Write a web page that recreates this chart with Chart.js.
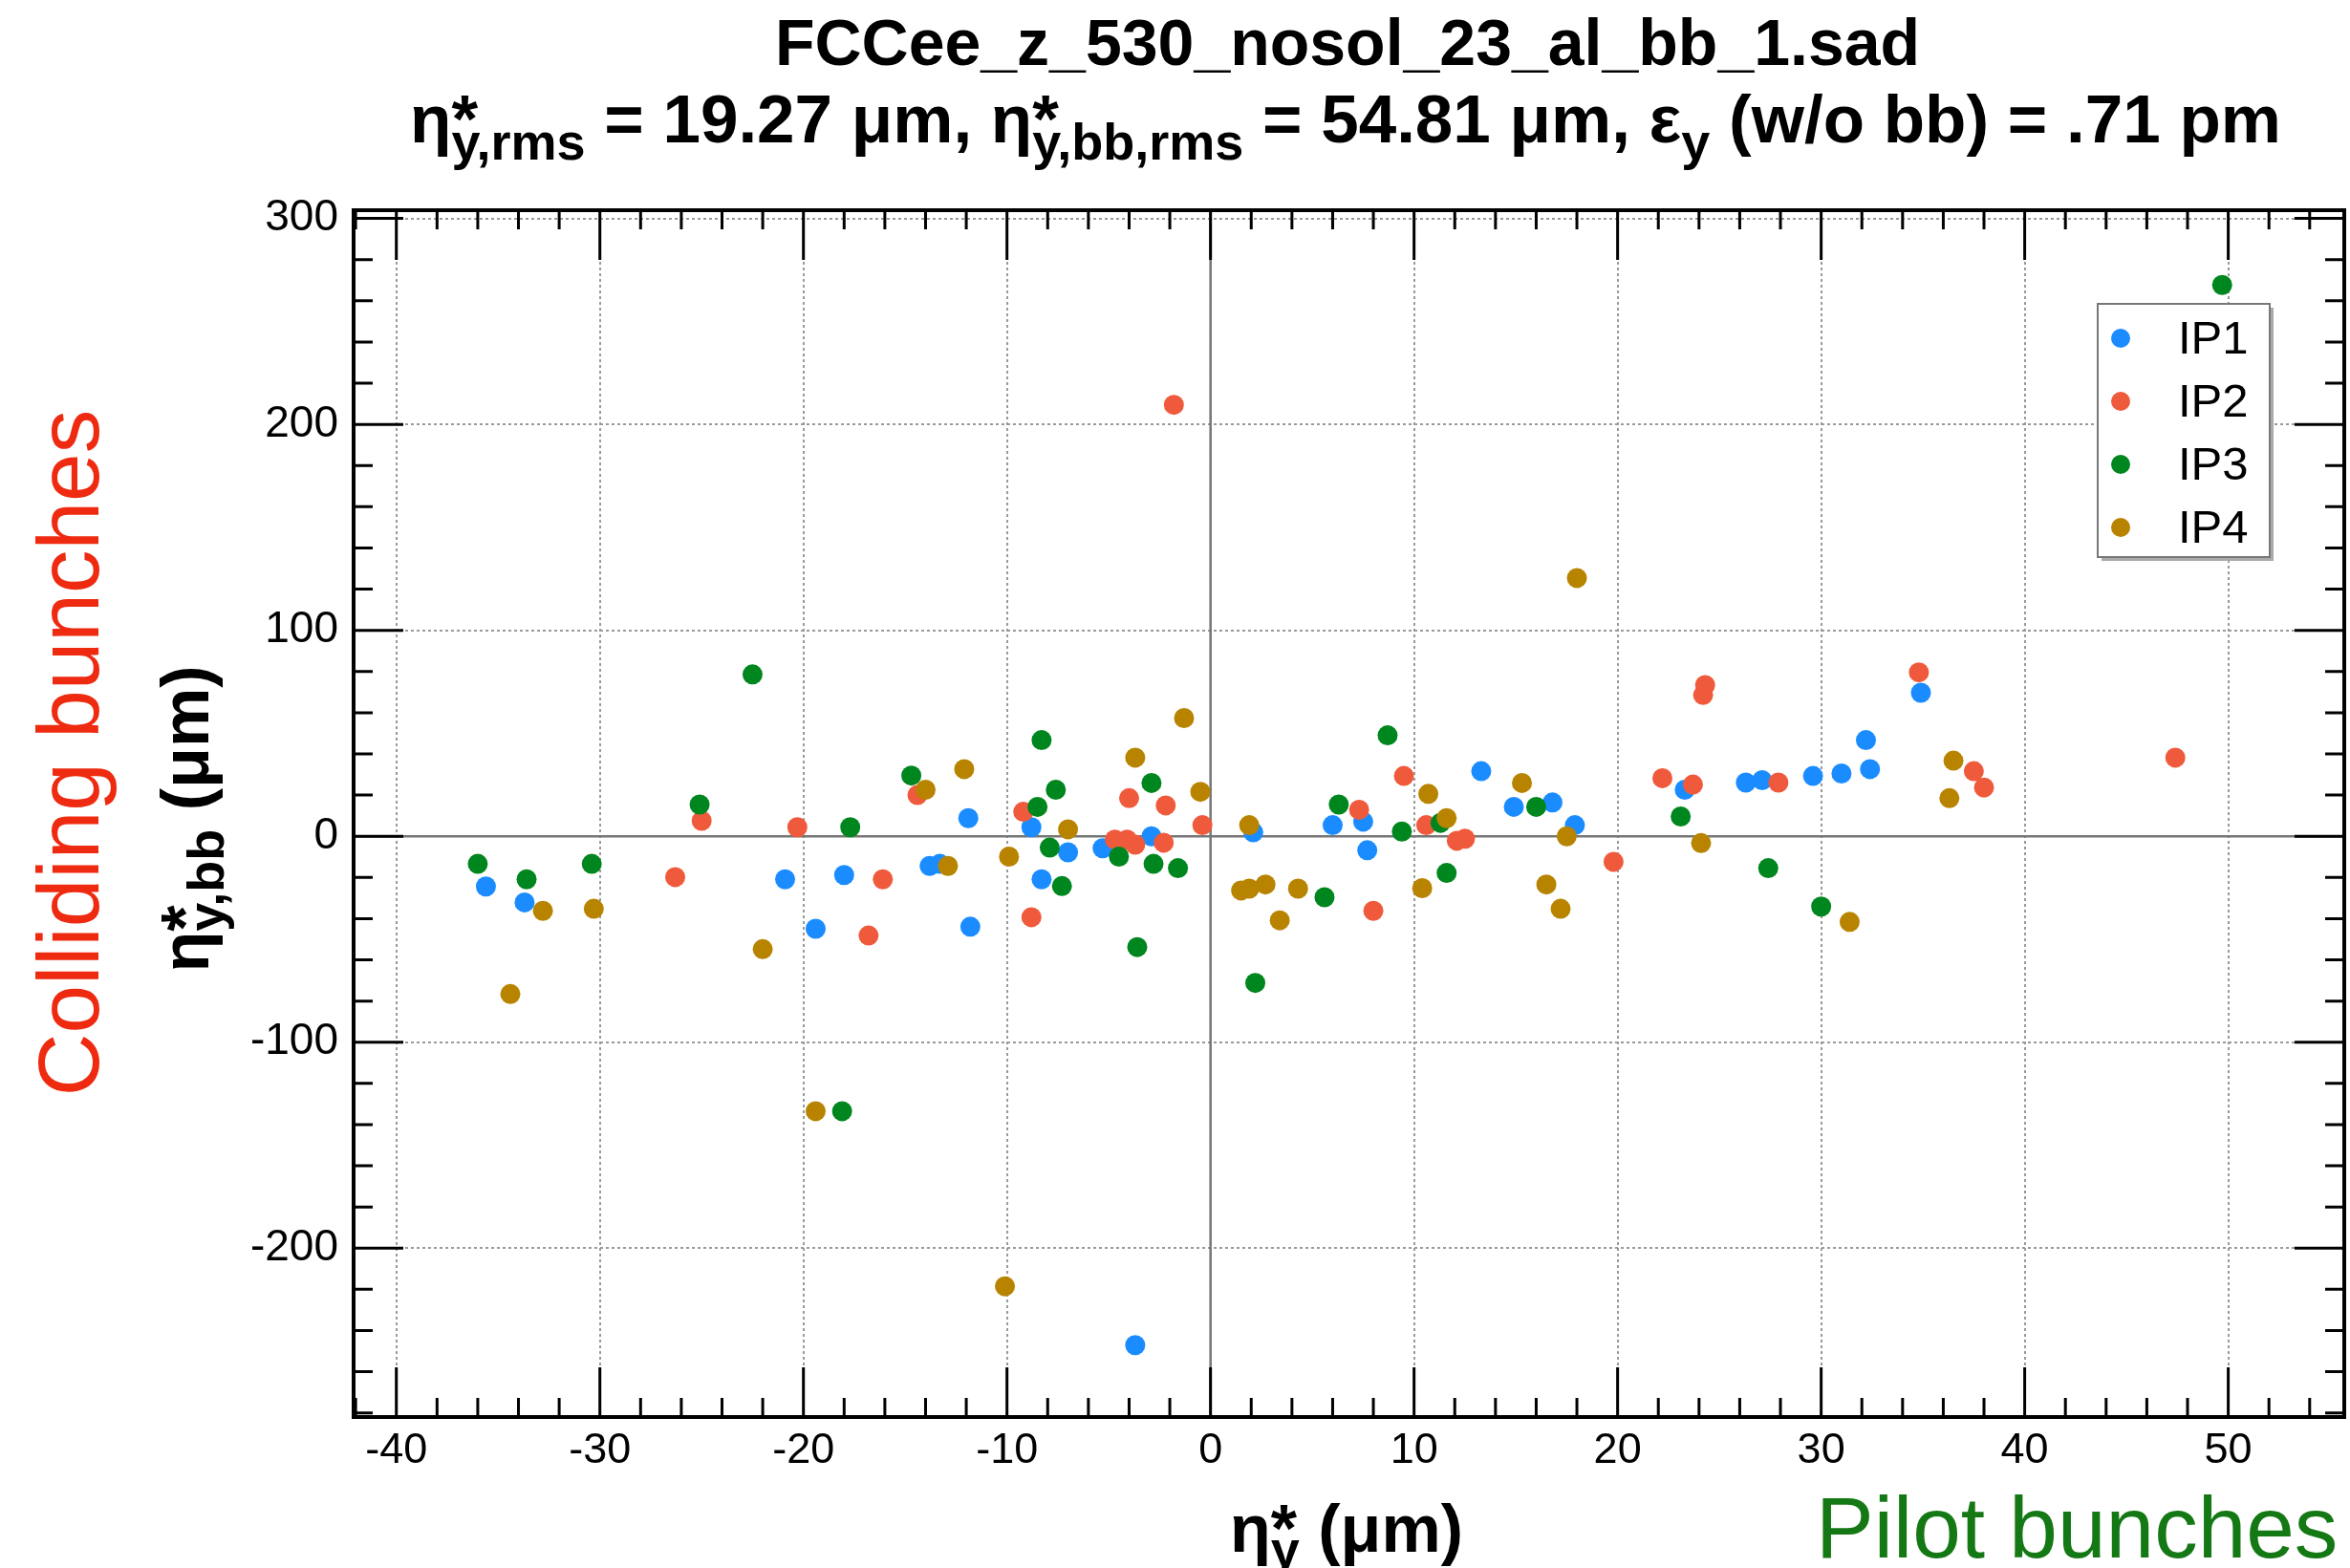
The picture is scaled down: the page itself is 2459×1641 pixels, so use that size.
<!DOCTYPE html>
<html>
<head>
<meta charset="utf-8">
<title>FCCee_z_530_nosol_23_al_bb_1.sad</title>
<script src="https://cdn.jsdelivr.net/npm/chart.js@4.4.0/dist/chart.umd.min.js"></script>
<style>
  html, body { margin: 0; padding: 0; background: #fff; }
  canvas { display: block; }
</style>
</head>
<body>
<canvas id="scatterChart" width="2459" height="1641"></canvas>
<script>
// eta*_y (um) vs eta*_y,bb (um), one list of [x, y] per IP
var ip1 = [[-35.6,-24.4],[-33.7,-32.1],[-20.9,-20.9],[-19.4,-44.9],[-18.0,-18.8],[-13.8,-14.4],[-13.3,-13.4],
  [-11.9,8.8],[-11.8,-43.9],[-8.8,4.4],[-8.3,-20.9],[-7.0,-7.8],[-5.3,-5.8],[-3.7,-247.1],[-2.9,0.0],
  [2.1,1.9],[6.0,5.4],[7.5,7.1],[7.7,-6.8],[13.3,31.6],[14.9,14.3],[16.8,16.4],[17.9,5.4],[23.3,22.6],
  [26.3,26.1],[27.1,27.2],[29.6,29.3],[31.0,30.5],[32.2,46.7],[32.4,32.6],[34.9,69.7]];
var ip2 = [[-26.3,-19.8],[-25.0,7.5],[-20.3,4.4],[-16.8,-48.2],[-16.1,-20.9],[-14.4,20.0],[-9.2,11.9],
  [-8.8,-39.3],[-4.7,-1.6],[-4.1,-1.6],[-4.0,18.5],[-3.7,-4.1],[-2.3,-3.1],[-2.2,15.0],[-1.8,209.5],
  [-0.4,5.4],[7.3,12.9],[8.0,-36.2],[9.5,29.3],[10.6,5.4],[12.1,-2.2],[12.5,-1.2],[19.8,-12.4],[22.2,28.2],
  [23.7,25.1],[24.2,68.6],[24.3,73.4],[27.9,26.1],[34.8,79.6],[37.5,31.6],[38.0,23.7],[47.4,38.2]];
var ip3 = [[-36.0,-13.4],[-33.6,-20.9],[-30.4,-13.4],[-25.1,15.4],[-22.5,78.6],[-18.1,-133.5],[-17.7,4.4],
  [-14.7,29.5],[-8.5,14.3],[-8.3,46.7],[-7.9,-5.5],[-7.6,22.6],[-7.3,-24.2],[-4.5,-9.9],[-3.6,-53.8],
  [-2.9,25.9],[-2.8,-13.4],[-1.6,-15.5],[2.2,-71.2],[5.6,-29.6],[6.3,15.4],[8.7,49.0],[9.4,2.3],[11.3,6.5],
  [11.6,-17.8],[16.0,14.3],[23.1,9.6],[27.4,-15.5],[30.0,-34.1],[49.7,267.7]];
var ip4 = [[-34.4,-76.6],[-32.8,-36.2],[-30.3,-35.2],[-22.0,-54.8],[-19.4,-133.5],[-14.0,22.6],[-12.9,-14.4],
  [-12.1,32.6],[-10.1,-218.5],[-9.9,-9.9],[-7.0,3.4],[-3.7,38.2],[-1.3,57.4],[-0.5,21.6],[1.5,-26.3],
  [1.9,-25.4],[1.9,5.4],[2.7,-23.4],[3.4,-40.8],[4.3,-25.4],[10.4,-25.2],[10.7,20.6],[11.6,8.8],[15.3,25.9],
  [16.5,-23.4],[17.2,-35.2],[17.5,0.0],[18.0,125.4],[24.1,-3.3],[31.4,-41.6],[36.3,18.5],[36.5,36.7]];

var seriesNames = ['IP1', 'IP2', 'IP3', 'IP4'];
var seriesData = [ip1, ip2, ip3, ip4];
var xTicks = [-40, -30, -20, -10, 0, 10, 20, 30, 40, 50];
var yTicks = [-200, -100, 0, 100, 200, 300];

var seriesColors = ['#1a8cff', '#f05a3c', '#00861e', '#b88400'];
var FONT = '"Liberation Sans", Arial, Helvetica, sans-serif';
Chart.defaults.font.family = FONT;
Chart.defaults.color = '#000';

// text pieces: [text, size, baseline shift, stays at same x]
var titleLine1 = 'FCCee_z_530_nosol_23_al_bb_1.sad';
var titleLine2 = [['η',71,0],['*',71,0,true],['y,rms',54,18],[' = 19.27 μm, ',71,0],
  ['η',71,0],['*',71,0,true],['y,bb,rms',54,18],[' = 54.81 μm, ',71,0],
  ['ε',71,0],['y',54,18],[' (w/o bb) = .71 pm',71,0]];
var xTitle = [['η',70,0],['*',70,0,true],['y',54,16],[' (μm)',70,0]];
var yTitle = [['η',70,0],['*',70,0,true],['y,bb',54,16],[' (μm)',70,0]];

function drawRich(ctx, segs, x, y) {
  var w = 0;
  segs.forEach(function (s) {
    ctx.font = 'bold ' + s[1] + 'px ' + FONT;
    if (!s[3]) w += ctx.measureText(s[0]).width;
  });
  var cx = x - w / 2;
  ctx.textAlign = 'left';
  ctx.textBaseline = 'alphabetic';
  segs.forEach(function (s) {
    ctx.font = 'bold ' + s[1] + 'px ' + FONT;
    ctx.fillText(s[0], cx, y + s[2]);
    if (!s[3]) cx += ctx.measureText(s[0]).width;
  });
}

var plotDecor = {
  id: 'plotDecor',
  beforeDraw: function (chart) {
    var ctx = chart.ctx;
    ctx.save();
    ctx.fillStyle = '#fff';
    ctx.fillRect(0, 0, chart.width, chart.height);
    ctx.restore();
  },
  beforeDatasetsDraw: function (chart) {
    var ctx = chart.ctx, a = chart.chartArea;
    var x0 = chart.scales.x.getPixelForValue(0);
    var y0 = chart.scales.y.getPixelForValue(0);
    ctx.save();
    ctx.strokeStyle = '#777';
    ctx.lineWidth = 2.5;
    ctx.beginPath();
    ctx.moveTo(x0, a.top); ctx.lineTo(x0, a.bottom);
    ctx.moveTo(a.left, y0); ctx.lineTo(a.right, y0);
    ctx.stroke();
    ctx.restore();
  },
  afterDatasetsDraw: function (chart) {
    var ctx = chart.ctx, a = chart.chartArea;
    var sx = chart.scales.x, sy = chart.scales.y;
    ctx.save();
    ctx.strokeStyle = '#000';
    ctx.lineWidth = 3;
    ctx.beginPath();
    for (var v = -42; v <= sx.max; v += 2) {
      var px = sx.getPixelForValue(v);
      var len = v % 10 === 0 ? 52 : 20;
      ctx.moveTo(px, a.bottom); ctx.lineTo(px, a.bottom - len);
      ctx.moveTo(px, a.top); ctx.lineTo(px, a.top + len);
    }
    for (var w = -280; w <= sy.max; w += 20) {
      var py = sy.getPixelForValue(w);
      var l2 = w % 100 === 0 ? 52 : 20;
      ctx.moveTo(a.left, py); ctx.lineTo(a.left + l2, py);
      ctx.moveTo(a.right, py); ctx.lineTo(a.right - l2, py);
    }
    ctx.stroke();
    ctx.lineWidth = 4;
    ctx.strokeRect(a.left, a.top, a.right - a.left, a.bottom - a.top);

    // legend box
    var lx = 2195, ly = 318, lw = 180, lh = 265;
    ctx.fillStyle = '#aaa';
    ctx.fillRect(lx + 4, ly + 4, lw, lh);
    ctx.fillStyle = '#fff';
    ctx.fillRect(lx, ly, lw, lh);
    ctx.strokeStyle = '#777';
    ctx.lineWidth = 2;
    ctx.strokeRect(lx, ly, lw, lh);
    ctx.font = '49px ' + FONT;
    ctx.textAlign = 'left';
    ctx.textBaseline = 'middle';
    seriesNames.forEach(function (name, i) {
      var ry = 354 + i * 66;
      ctx.fillStyle = seriesColors[i];
      ctx.beginPath();
      ctx.arc(lx + 24, ry, 10, 0, Math.PI * 2);
      ctx.fill();
      ctx.fillStyle = '#000';
      ctx.fillText(name, lx + 84, ry + 2);
    });
    ctx.restore();
  },
  afterDraw: function (chart) {
    var ctx = chart.ctx;
    ctx.save();
    ctx.fillStyle = '#000';
    ctx.font = 'bold 68px ' + FONT;
    ctx.textAlign = 'center';
    ctx.textBaseline = 'alphabetic';
    ctx.fillText(titleLine1, 1410, 68);
    drawRich(ctx, titleLine2, 1408, 149);
    drawRich(ctx, xTitle, 1409, 1624);
    ctx.save();
    ctx.translate(218, 857);
    ctx.rotate(-Math.PI / 2);
    drawRich(ctx, yTitle, 0, 0);
    ctx.restore();

    ctx.font = '91px ' + FONT;
    ctx.fillStyle = '#ee2a10';
    ctx.save();
    ctx.translate(103, 788);
    ctx.rotate(-Math.PI / 2);
    ctx.textAlign = 'center';
    ctx.fillText('Colliding bunches', 0, 0);
    ctx.restore();
    ctx.fillStyle = '#147814';
    ctx.textAlign = 'left';
    ctx.fillText('Pilot bunches', 1900, 1630);
    ctx.restore();
  }
};

var scatterChart = new Chart(document.getElementById('scatterChart'), {
  type: 'scatter',
  data: {
    datasets: seriesData.map(function (pts, i) {
      return {
        label: seriesNames[i],
        data: pts.map(function (p) { return { x: p[0], y: p[1] }; }),
        backgroundColor: seriesColors[i],
        borderWidth: 0,
        pointRadius: 10.5,
        pointHoverRadius: 10.5,
        order: seriesNames.length - i
      };
    })
  },
  options: {
    animation: false,
    responsive: false,
    events: [],
    layout: { autoPadding: false, padding: { top: 220, right: 6, left: 0, bottom: 0 } },
    plugins: {
      legend: { display: false },
      title: { display: false },
      tooltip: { enabled: false }
    },
    scales: {
      x: {
        type: 'linear',
        min: -42.1,
        max: 55.7,
        afterBuildTicks: function (s) { s.ticks = xTicks.map(function (v) { return { value: v }; }); },
        afterFit: function (s) { s.height = 158; },
        ticks: {
          font: { size: 45 },
          color: '#000',
          padding: 9,
          maxRotation: 0,
          autoSkip: false,
          callback: function (v) { return String(v); }
        },
        grid: { color: '#9a9a9a', lineWidth: 2, drawTicks: false },
        border: { display: false, dash: [3, 3] }
      },
      y: {
        type: 'linear',
        min: -282,
        max: 304,
        afterBuildTicks: function (s) { s.ticks = yTicks.map(function (v) { return { value: v }; }); },
        afterFit: function (s) { s.width = 370; },
        ticks: {
          font: { size: 46 },
          color: '#000',
          padding: 16,
          autoSkip: false,
          callback: function (v) { return String(v); }
        },
        grid: { color: '#9a9a9a', lineWidth: 2, drawTicks: false },
        border: { display: false, dash: [3, 3] }
      }
    }
  },
  plugins: [plotDecor]
});
</script>
</body>
</html>
